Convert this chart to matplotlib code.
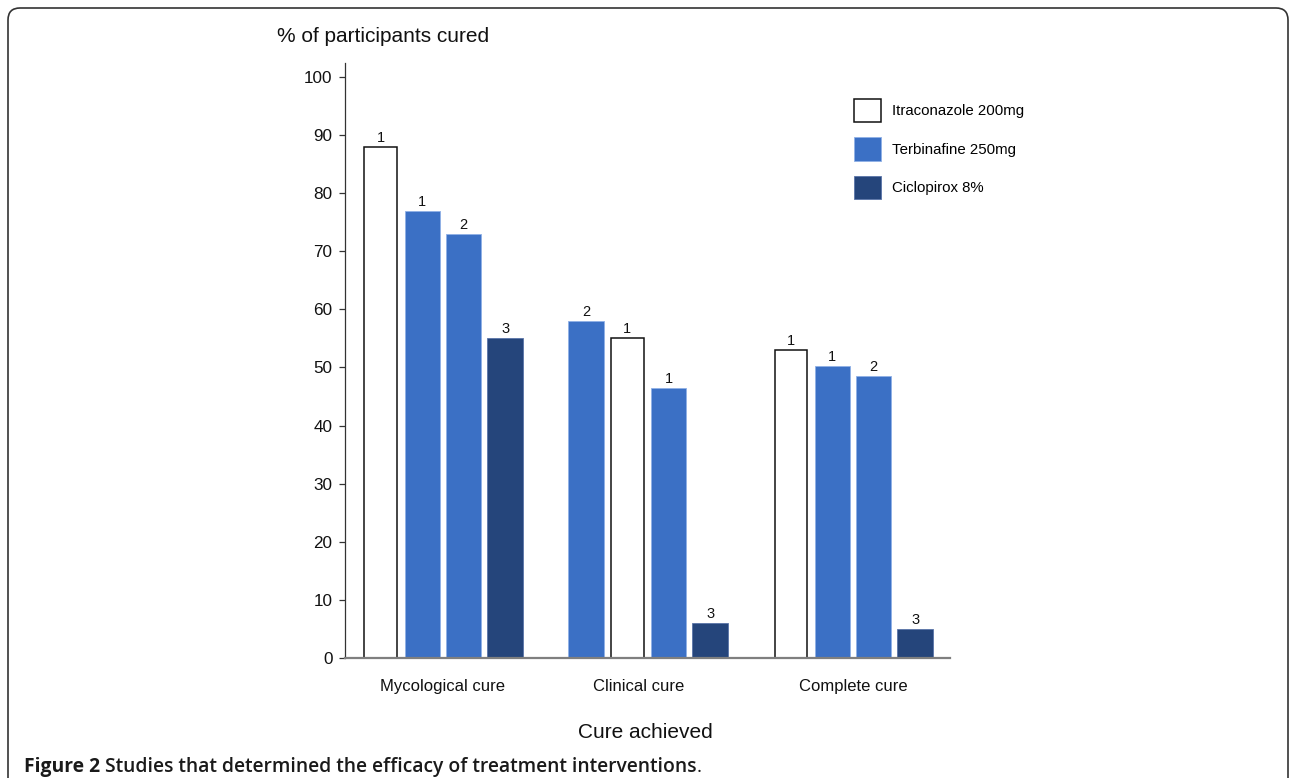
import matplotlib
matplotlib.use("Agg")
import matplotlib.pyplot as plt
from matplotlib.patches import Patch, FancyBboxPatch
from matplotlib.transforms import IdentityTransform, ScaledTranslation
import numpy as np

# ---------------- data ----------------
categories = ["Mycological cure", "Clinical cure", "Complete cure"]
drugs = ["Itraconazole 200mg", "Terbinafine 250mg", "Ciclopirox 8%"]
# per category: which drug each of the 4 bars represents
bar_drugs = [
    ["Itraconazole 200mg", "Terbinafine 250mg", "Terbinafine 250mg", "Ciclopirox 8%"],
    ["Terbinafine 250mg", "Itraconazole 200mg", "Terbinafine 250mg", "Ciclopirox 8%"],
    ["Itraconazole 200mg", "Terbinafine 250mg", "Terbinafine 250mg", "Ciclopirox 8%"],
]
bar_values = [
    [88, 77, 73, 55],
    [58, 55, 46.5, 6],
    [53, 50.3, 48.5, 5],
]
study_labels = [
    ["1", "1", "2", "3"],
    ["2", "1", "1", "3"],
    ["1", "1", "2", "3"],
]
yticks = [0, 10, 20, 30, 40, 50, 60, 70, 80, 90, 100]

# ---------------- style ----------------
face = {"Itraconazole 200mg": "#ffffff", "Terbinafine 250mg": "#3b70c5", "Ciclopirox 8%": "#25457b"}
edge = {"Itraconazole 200mg": "#111111", "Terbinafine 250mg": "#8fb0e6", "Ciclopirox 8%": "#5a74a8"}
lw = {"Itraconazole 200mg": 1.1, "Terbinafine 250mg": 0.6, "Ciclopirox 8%": 0.6}
bw = {"Itraconazole 200mg": 0.160, "Terbinafine 250mg": 0.172, "Ciclopirox 8%": 0.178}

plt.rcParams['font.family'] = ['Liberation Sans', 'DejaVu Sans']

W, H = 1290, 778
fig = plt.figure(figsize=(W / 100, H / 100), dpi=100)
fig.patch.set_facecolor("white")

ax_left, ax_right = 345, 950
ax_bottom, ax_top = 658, 63
ax = fig.add_axes([ax_left / W, 1 - ax_bottom / H, (ax_right - ax_left) / W, (ax_bottom - ax_top) / H])

spacing = 0.202
offsets = (np.arange(4) - 1.5) * spacing
for gi, cat in enumerate(categories):
    for bi in range(4):
        d = bar_drugs[gi][bi]
        x = gi + offsets[bi]
        v = bar_values[gi][bi]
        ax.bar(x, v, width=bw[d], color=face[d], edgecolor=edge[d], linewidth=lw[d], zorder=2)
        ax.annotate(study_labels[gi][bi], (x, v), xytext=(0, 1.5), textcoords="offset points",
                    ha="center", va="bottom", fontsize=10.5, color="#111111")

ax.set_xlim(-0.478, 2.473)
ax.set_ylim(0, 102.4)
ax.set_yticks(yticks)
ax.set_yticklabels([str(t) for t in yticks], fontsize=12.3, color="#111111")
ax.tick_params(axis="y", length=4, width=0.9, color="#333333", pad=5)
ax.set_xticks(range(len(categories)))
ax.set_xticklabels(categories, fontsize=12, color="#111111")
ax.tick_params(axis="x", length=0, pad=15)
label_shift = [0, -9, 0]
for lab, s in zip(ax.get_xticklabels(), label_shift):
    lab.set_transform(lab.get_transform() + ScaledTranslation(s / 100, 0, fig.dpi_scale_trans))
for sp in ["top", "right"]:
    ax.spines[sp].set_visible(False)
ax.spines["left"].set_color("#333333")
ax.spines["left"].set_linewidth(0.9)
ax.spines["bottom"].set_color("#7f7f7f")
ax.spines["bottom"].set_linewidth(1.6)
ax.spines["bottom"].set_zorder(3)

fig.text(277 / W, 1 - 37 / H, "% of participants cured", fontsize=15, ha="left", va="center", color="#111111")
fig.text(645 / W, 1 - 732 / H, "Cure achieved", fontsize=15, ha="center", va="center", color="#111111")

handles = [Patch(facecolor=face[d], edgecolor=edge[d], linewidth=lw[d]) for d in drugs]
ax.legend(handles, drugs, loc="upper left", bbox_to_anchor=(854 / W, 1 - 99 / H),
          bbox_transform=fig.transFigure, frameon=False, fontsize=10.8,
          handlelength=1.8, handleheight=2.03, labelspacing=1.0, handletextpad=0.75,
          borderpad=0, borderaxespad=0)

# frame
frame = FancyBboxPatch((8, -30), 1280, H - 8 + 30, boxstyle="round,pad=0,rounding_size=12",
                       transform=IdentityTransform(), facecolor="none", edgecolor="#333333",
                       linewidth=1.2)
fig.add_artist(frame)

# caption
fig.canvas.draw()
renderer = fig.canvas.get_renderer()
cap_y = 1 - 767 / H
x0 = 24
parts = [("Figure 2 ", "bold"), ("Studies that determined the efficacy of treatment interventions", "semibold"), (".", "normal")]
for txt, wt in parts:
    t = fig.text(x0 / W, cap_y, txt, fontsize=13.9, fontweight=wt, ha="left", va="center",
                 family=["Open Sans", "DejaVu Sans"], color="#1a1a1a")
    bb = t.get_window_extent(renderer=renderer)
    x0 = bb.x1 + 0

fig.savefig("out.png", dpi=100)
